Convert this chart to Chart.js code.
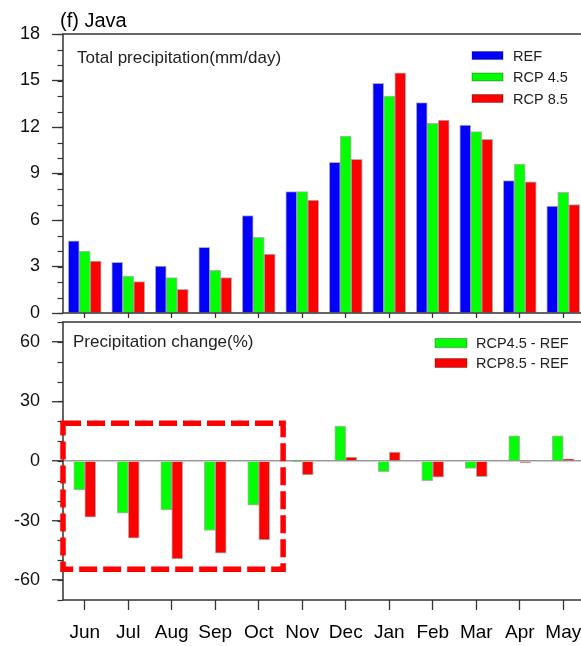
<!DOCTYPE html>
<html>
<head>
<meta charset="utf-8">
<title>(f) Java</title>
<script src="https://cdn.jsdelivr.net/npm/chart.js@4.4.1/dist/chart.umd.min.js"></script>
<style>
  html, body { margin: 0; padding: 0; background: #fff; overflow: hidden; }
  #page { position: relative; width: 581px; height: 646px; overflow: hidden; }
  .panel { position: absolute; left: 0; width: 585px; }
  #topPanel { top: 0; height: 320px; }
  #bottomPanel { top: 318px; height: 328px; }
  #title { position: absolute; left: 60px; top: 10px; z-index: 2;
           font: 20px "Liberation Sans", Arial, sans-serif; line-height: 20px; color: #000; }
</style>
</head>
<body>
<div id="page">
  <div id="title">(f) Java</div>
  <div class="panel" id="topPanel"><canvas id="topChart"></canvas></div>
  <div class="panel" id="bottomPanel"><canvas id="bottomChart"></canvas></div>
</div>
<script>
// ===== Данные =====
const months = ['Jun', 'Jul', 'Aug', 'Sep', 'Oct', 'Nov', 'Dec', 'Jan', 'Feb', 'Mar', 'Apr', 'May'];

// Total precipitation (mm/day)
const refPrecip   = [4.65, 3.27, 3.03, 4.24, 6.28, 7.83, 9.72, 14.82, 13.57, 12.13, 8.54, 6.90];
const rcp45Precip = [4.00, 2.39, 2.28, 2.75, 4.88, 7.83, 11.42, 14.00, 12.24, 11.70, 9.61, 7.79];
const rcp85Precip = [3.35, 2.02, 1.53, 2.28, 3.80, 7.29, 9.91, 15.50, 12.45, 11.20, 8.47, 6.99];

// Precipitation change (%)
const rcp45Change = [-14.6, -26.3, -24.6, -35.0, -22.3, -0.3, 17.6, -5.4, -9.9, -3.7, 12.7, 12.7];
const rcp85Change = [-28.3, -38.9, -49.3, -46.4, -39.7, -7.0, 2.0, 4.5, -8.2, -7.9, -0.7, 1.0];

// Tick labels
const topTicks = [0, 3, 6, 9, 12, 15, 18];
const bottomTicks = [-60, -30, 0, 30, 60];

document.addEventListener('DOMContentLoaded', function() {
    const FONT = '"Liberation Sans", Arial, Helvetica, sans-serif';
    const BLUE = '#0000ff', GREEN = '#00ff00', RED = '#ff0000';

    // рамка, мелкие деления, подпись панели, легенда, выделение
    const panelDecor = {
        id: 'panelDecor',
        afterDraw(chart, args, opts) {
            const ctx = chart.ctx;
            const area = chart.chartArea;
            const y = chart.scales.y;
            ctx.save();

            // minor ticks
            ctx.strokeStyle = '#333';
            ctx.lineWidth = 1.2;
            for (let v = y.min; v <= y.max + 1e-9; v += opts.minorStep) {
                const py = Math.round(y.getPixelForValue(v)) + 0.5;
                ctx.beginPath();
                ctx.moveTo(area.left - 5.5, py);
                ctx.lineTo(area.left, py);
                ctx.stroke();
            }

            // frame
            ctx.lineWidth = 1.5;
            ctx.strokeRect(area.left, area.top, area.right - area.left, area.bottom - area.top);

            // panel label
            ctx.fillStyle = '#222';
            ctx.font = '17px ' + FONT;
            ctx.textAlign = 'left';
            ctx.textBaseline = 'alphabetic';
            ctx.fillText(opts.label, area.left + opts.labelX, area.top + opts.labelY);

            // legend
            ctx.font = '14.5px ' + FONT;
            ctx.textBaseline = 'middle';
            chart.data.datasets.forEach((ds, i) => {
                const bx = area.left + opts.legendX;
                const cy = area.top + opts.legendY + i * opts.legendGap;
                ctx.fillStyle = ds.backgroundColor;
                ctx.fillRect(bx, cy - opts.boxH / 2, opts.boxW, opts.boxH);
                ctx.strokeStyle = 'rgba(0,0,0,0.3)';
                ctx.lineWidth = 1;
                ctx.strokeRect(bx, cy - opts.boxH / 2, opts.boxW, opts.boxH);
                ctx.fillStyle = '#222';
                ctx.fillText(ds.label, bx + opts.boxW + opts.textGap, cy + 1);
            });

            // dashed highlight box
            if (opts.highlight) {
                const x = chart.scales.x;
                const h = opts.highlight;
                const x1 = x.getPixelForValue(h.from), x2 = x.getPixelForValue(h.to);
                const y1 = y.getPixelForValue(h.top), y2 = y.getPixelForValue(h.bottom);
                ctx.strokeStyle = RED;
                ctx.lineWidth = 5.5;
                ctx.setLineDash([18, 6]);
                ctx.strokeRect(x1, y1, x2 - x1, y2 - y1);
            }
            ctx.restore();
        }
    };

    function barSet(label, data, color) {
        return {
            label: label,
            data: data,
            backgroundColor: color,
            borderColor: 'rgba(0,0,0,0.3)',
            borderWidth: 1,
            barThickness: 11
        };
    }

    function yAxis(min, max, ticks, fontSize) {
        return {
            min: min,
            max: max,
            afterBuildTicks: s => { s.ticks = ticks.map(v => ({ value: v })); },
            afterFit: s => {
                s.width = 63;
                s.paddingTop = 0;
                s.paddingBottom = 0;
            },
            border: { display: false },
            grid: {
                drawOnChartArea: false,
                drawTicks: true,
                tickLength: 11,
                tickColor: '#333',
                tickWidth: 1.3
            },
            ticks: {
                padding: 12,
                color: '#111',
                font: { family: FONT, size: fontSize }
            }
        };
    }

    // ===== Верхняя панель =====
    new Chart(document.getElementById('topChart'), {
        type: 'bar',
        data: {
            labels: months,
            datasets: [
                barSet('REF', refPrecip, BLUE),
                barSet('RCP 4.5', rcp45Precip, GREEN),
                barSet('RCP 8.5', rcp85Precip, RED)
            ]
        },
        options: {
            responsive: true,
            maintainAspectRatio: false,
            animation: false,
            events: [],
            layout: { padding: { top: 34, left: 0, right: 0, bottom: 0 } },
            plugins: {
                legend: { display: false },
                tooltip: { enabled: false },
                panelDecor: {
                    minorStep: 1,
                    label: 'Total precipitation(mm/day)',
                    labelX: 14, labelY: 28.5,
                    legendX: 409, legendY: 21.5, legendGap: 21.5,
                    boxW: 31, boxH: 8, textGap: 10
                }
            },
            scales: {
                x: {
                    offset: true,
                    afterFit: s => { s.height = 7; s.paddingLeft = 0; s.paddingRight = 0; },
                    border: { display: false },
                    grid: { offset: false, drawOnChartArea: false, tickLength: 5, tickColor: '#333', tickWidth: 1.3 },
                    ticks: { display: false }
                },
                y: yAxis(0, 18, topTicks, 18)
            }
        },
        plugins: [panelDecor]
    });

    // ===== Нижняя панель =====
    new Chart(document.getElementById('bottomChart'), {
        type: 'bar',
        data: {
            labels: months,
            datasets: [
                barSet('RCP4.5 - REF', rcp45Change, GREEN),
                barSet('RCP8.5 - REF', rcp85Change, RED)
            ]
        },
        options: {
            responsive: true,
            maintainAspectRatio: false,
            animation: false,
            events: [],
            layout: { padding: { top: 4, left: 0, right: 0, bottom: 0 } },
            plugins: {
                legend: { display: false },
                tooltip: { enabled: false },
                panelDecor: {
                    minorStep: 10,
                    label: 'Precipitation change(%)',
                    labelX: 10, labelY: 24.5,
                    legendX: 372, legendY: 21, legendGap: 20,
                    boxW: 32, boxH: 9, textGap: 9,
                    highlight: { from: -0.5, to: 4.56, top: 19, bottom: -54.5 }
                }
            },
            scales: {
                x: {
                    offset: true,
                    afterFit: s => { s.height = 46; s.paddingLeft = 0; s.paddingRight = 0; },
                    border: { display: false },
                    grid: { offset: false, drawOnChartArea: false, tickLength: 10, tickColor: '#333', tickWidth: 1.3 },
                    ticks: {
                        autoSkip: false,
                        maxRotation: 0,
                        padding: 11,
                        color: '#000',
                        font: { family: FONT, size: 19 }
                    }
                },
                y: Object.assign(yAxis(-70, 70, bottomTicks, 18), {
                    grid: {
                        drawOnChartArea: true,
                        drawTicks: true,
                        tickLength: 11,
                        tickColor: '#333',
                        tickWidth: 1.3,
                        color: c => (c.tick && c.tick.value === 0 ? '#999' : 'rgba(0,0,0,0)'),
                        lineWidth: 1.5
                    }
                })
            }
        },
        plugins: [panelDecor]
    });
});
</script>
</body>
</html>
